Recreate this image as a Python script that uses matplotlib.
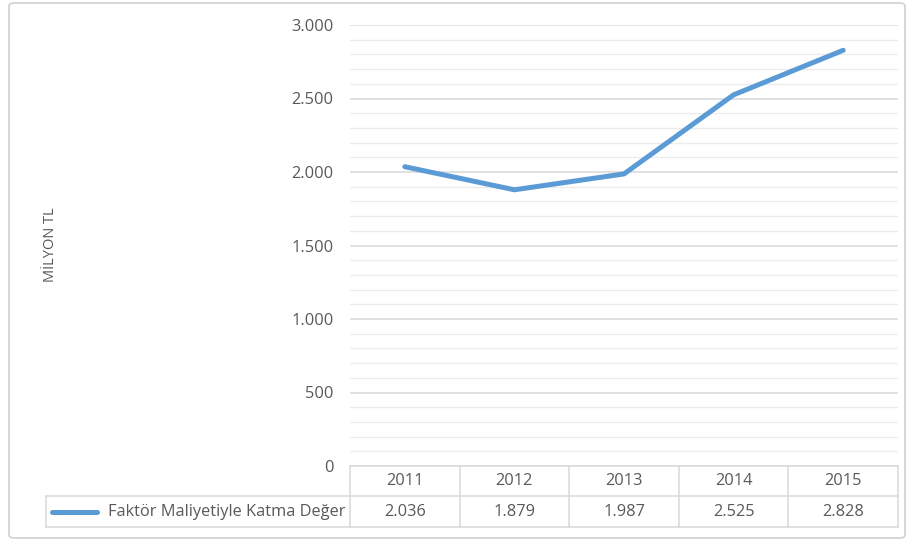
import matplotlib.pyplot as plt
from matplotlib.patches import FancyBboxPatch
from matplotlib.lines import Line2D
from matplotlib.ticker import MultipleLocator, FuncFormatter

plt.rcParams['font.family'] = ['Open Sans', 'DejaVu Sans']

years = ['2011', '2012', '2013', '2014', '2015']
katma_deger = [2036, 1879, 1987, 2525, 2828]
series_name = 'Faktör Maliyetiyle Katma Değer'
y_label = 'MİLYON TL'

BLUE = '#5B9BD5'
TEXT = '#595959'
GRID = '#d9d9d9'
GRID_MINOR = '#ececec'
FS = 11.8

fig = plt.figure(figsize=(9.09, 5.41), dpi=100)
W, H = 909, 541


def fx(px):
    return px / W


def fy(py):
    return 1 - py / H


# outer chart frame
frame = FancyBboxPatch((fx(9), fy(538)), fx(896), 535 / H,
                       boxstyle='round,pad=0,rounding_size=0.006',
                       transform=fig.transFigure, fill=False,
                       edgecolor='#d0d0d0', linewidth=1.2)
fig.patches.append(frame)

left, right, top, bottom = 350, 898, 25, 466
ax = fig.add_axes([fx(left), fy(bottom), fx(right - left), (bottom - top) / H])

x = list(range(len(years)))
ax.plot(x, katma_deger, color=BLUE, linewidth=3.6, solid_capstyle='round',
        solid_joinstyle='round', zorder=3)

ax.set_xlim(-0.5, len(years) - 0.5)
ax.set_ylim(0, 3000)
ax.yaxis.set_major_locator(MultipleLocator(500))
ax.yaxis.set_minor_locator(MultipleLocator(100))
ax.yaxis.set_major_formatter(FuncFormatter(lambda v, p: f'{int(v):,}'.replace(',', '.')))
ax.grid(axis='y', which='major', color=GRID, linewidth=1.1)
ax.grid(axis='y', which='minor', color=GRID_MINOR, linewidth=1.0)
ax.set_axisbelow(True)
for s in ax.spines.values():
    s.set_visible(False)
ax.tick_params(axis='y', which='both', length=0, labelsize=FS, labelcolor=TEXT, pad=12)
ax.tick_params(axis='x', which='both', length=0, labelbottom=False)

fig.text(fx(51), fy(245), y_label, rotation=90, ha='center', va='center',
         fontsize=FS - 1.3, color=TEXT)

# data table under the axis
row1 = -(496 - bottom) / (bottom - top)
row2 = -(527 - bottom) / (bottom - top)
lab_left = (46 - left) / (right - left)
tkw = dict(transform=ax.transAxes, color=GRID, linewidth=1.1, clip_on=False)
ax.add_line(Line2D([0, 1], [0, 0], **tkw))
ax.add_line(Line2D([lab_left, 1], [row1, row1], **tkw))
ax.add_line(Line2D([lab_left, 1], [row2, row2], **tkw))
ax.add_line(Line2D([lab_left, lab_left], [row1, row2], **tkw))
ncol = len(years)
for i in range(ncol + 1):
    xa = i / ncol
    ax.add_line(Line2D([xa, xa], [0, row2], **tkw))
for i, (yr, v) in enumerate(zip(years, katma_deger)):
    xa = (i + 0.5) / ncol
    ax.text(xa, row1 / 2, yr, transform=ax.transAxes, ha='center', va='center',
            fontsize=FS, color=TEXT)
    ax.text(xa, (row1 + row2) / 2, f'{v:,}'.replace(',', '.'), transform=ax.transAxes,
            ha='center', va='center', fontsize=FS, color=TEXT)

# legend key inside the table row label
key_y = (row1 + row2) / 2
ax.add_line(Line2D([(52 - left) / (right - left), (97 - left) / (right - left)], [key_y, key_y],
                   transform=ax.transAxes, color=BLUE, linewidth=3.6, clip_on=False,
                   solid_capstyle='round'))
ax.text((346 - left) / (right - left), key_y, series_name, transform=ax.transAxes,
        ha='right', va='center', fontsize=FS, color=TEXT)

fig.savefig('out.png', dpi=100, facecolor='white')
